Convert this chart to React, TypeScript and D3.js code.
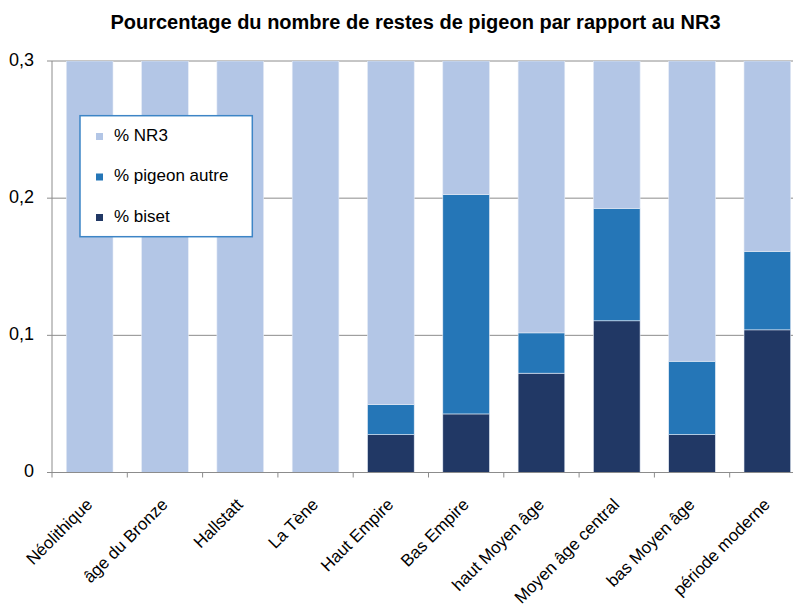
import React from "react";
import * as d3 from "d3";

const categories = [
  "Néolithique",
  "âge du Bronze",
  "Hallstatt",
  "La Tène",
  "Haut Empire",
  "Bas Empire",
  "haut Moyen âge",
  "Moyen âge central",
  "bas Moyen âge",
  "période moderne",
];
const biset = [0, 0, 0, 0, 0.0276, 0.0427, 0.0724, 0.1106, 0.0276, 0.104];
const pigeonAutre = [0, 0, 0, 0, 0.0219, 0.1599, 0.0294, 0.082, 0.0535, 0.0572];
const nr3 = [1, 1, 1, 1, 0.9505, 0.7974, 0.8982, 0.8074, 0.9189, 0.8388];
const yTicks = [0, 0.1, 0.2, 0.3];
const yTickLabels = ["0", "0,1", "0,2", "0,3"];
const seriesNames = ["% biset", "% pigeon autre", "% NR3"];
const colors = ["#213865", "#2576b7", "#b3c6e6"];

const W = 793;
const H = 604;
const M = { left: 52, top: 61, bottom: 472.5 };
const BAND = 75.3;

export default function App() {
  const x = d3
    .scaleBand<string>()
    .domain(categories)
    .range([M.left, M.left + BAND * categories.length])
    .paddingInner(0.38)
    .paddingOuter(0.19);
  const y = d3.scaleLinear().domain([0, 0.3]).range([M.bottom, M.top]);

  const rows = categories.map((c, i) => ({
    cat: c,
    biset: biset[i],
    autre: pigeonAutre[i],
    nr3: nr3[i],
  }));
  const stack = d3.stack<any>().keys(["biset", "autre", "nr3"]);
  const layers = stack(rows);

  const boundaries = categories.map((_, i) => M.left + BAND * i);

  const font = "'Liberation Sans', Arial, sans-serif";
  const legendItems = [
    { name: seriesNames[2], color: colors[2] },
    { name: seriesNames[1], color: colors[1] },
    { name: seriesNames[0], color: colors[0] },
  ];

  return (
    <svg
      width={W}
      height={H}
      style={{ position: "absolute", left: 0, top: 0, background: "#fff" }}
      fontFamily={font}
    >
      <defs>
        <clipPath id="plot">
          <rect x={M.left} y={M.top} width={W - M.left} height={M.bottom - M.top} />
        </clipPath>
      </defs>
      <text x={415.5} y={29} textAnchor="middle" fontWeight="bold" fontSize={20} fill="#000">
        Pourcentage du nombre de restes de pigeon par rapport au NR3
      </text>

      {/* gridlines */}
      {yTicks.slice(1).map((t) => (
        <line
          key={t}
          x1={M.left}
          x2={W}
          y1={y(t)}
          y2={y(t)}
          stroke="#8c8c8c"
          strokeWidth={1}
        />
      ))}

      {/* bars */}
      <g clipPath="url(#plot)">
        {layers.map((layer, li) => (
          <g key={li} fill={colors[li]}>
            {layer.map((d, i) =>
              d[1] - d[0] > 0 ? (
                <rect
                  key={i}
                  x={x(categories[i])}
                  width={x.bandwidth()}
                  y={y(Math.min(d[1], 0.3))}
                  height={y(d[0]) - y(Math.min(d[1], 0.3))}
                  stroke="#e4ebf6"
                  strokeWidth={0.6}
                />
              ) : null
            )}
          </g>
        ))}
      </g>

      {/* y axis */}
      <line x1={M.left} x2={M.left} y1={M.top} y2={M.bottom} stroke="#8c8c8c" />
      {yTicks.map((t, i) => (
        <g key={t}>
          <line x1={M.left - 5} x2={M.left} y1={y(t)} y2={y(t)} stroke="#8c8c8c" />
          <text
            x={34}
            y={y(t)}
            textAnchor="end"
            dominantBaseline="middle"
            fontSize={18}
            fill="#000"
          >
            {yTickLabels[i]}
          </text>
        </g>
      ))}

      {/* x axis */}
      <line x1={M.left} x2={W} y1={M.bottom} y2={M.bottom} stroke="#8c8c8c" />
      {boundaries.map((b, i) => (
        <line key={i} x1={b} x2={b} y1={M.bottom} y2={M.bottom + 5} stroke="#8c8c8c" />
      ))}
      {categories.map((c) => {
        const cx = (x(c) as number) + x.bandwidth() / 2;
        return (
          <text
            key={c}
            transform={`translate(${cx + 0.5},${M.bottom + 30}) rotate(-45)`}
            textAnchor="end"
            dominantBaseline="middle"
            fontSize={17}
            fill="#000"
          >
            {c}
          </text>
        );
      })}

      {/* legend */}
      <rect
        x={80}
        y={115.7}
        width={172.3}
        height={121}
        fill="#fff"
        stroke="#3d85c6"
        strokeWidth={1.5}
      />
      {legendItems.map((it, i) => {
        const cy = 136.5 + i * 40.5;
        return (
          <g key={it.name}>
            <rect x={96} y={cy - 3.5} width={7} height={7} fill={it.color} />
            <text x={114} y={cy} dominantBaseline="middle" fontSize={17} fill="#000">
              {it.name}
            </text>
          </g>
        );
      })}
    </svg>
  );
}
